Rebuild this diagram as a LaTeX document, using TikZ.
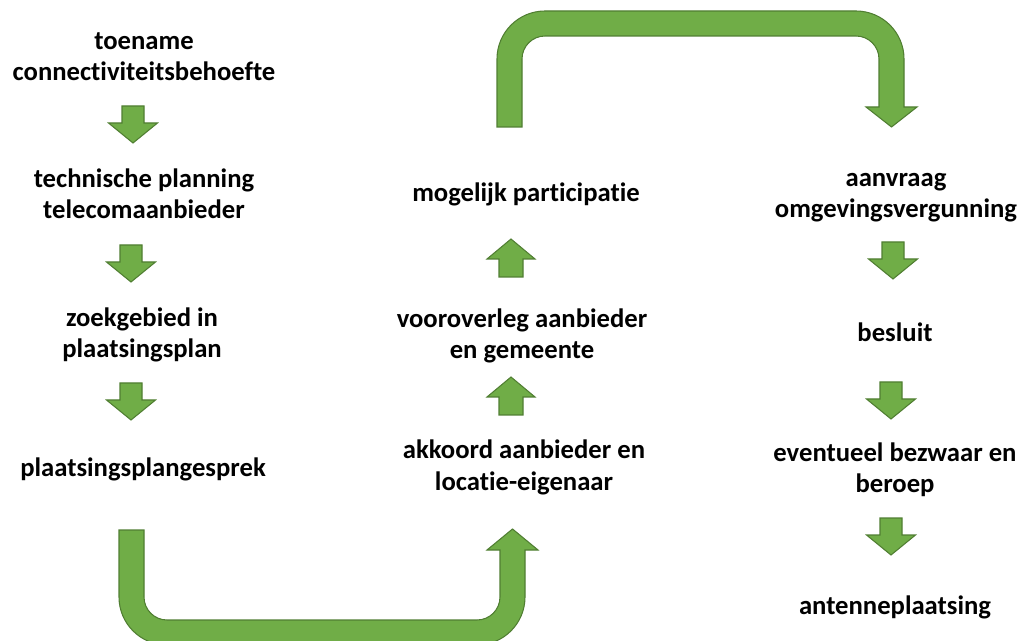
\documentclass[tikz,border=0pt]{standalone}
\usepackage{fontspec}
\setmainfont{Carlito}[Ligatures=NoCommon]
\definecolor{arrowfill}{HTML}{70AD47}
\definecolor{arrowline}{HTML}{507E32}
\tikzset{
  blockarrow/.style={fill=arrowfill, draw=arrowline, line width=0.8pt, line join=miter},
  label/.style={anchor=base, align=center, inner sep=0pt,
    font=\bfseries\fontsize{20}{23.6}\selectfont}
}
\newcommand\downblock[2]{%
  \draw[blockarrow] (#1-11,#2) -- (#1+11,#2) -- (#1+11,#2+17) -- (#1+24.5,#2+17)
    -- (#1,#2+37) -- (#1-24.5,#2+17) -- (#1-11,#2+17) -- cycle;}
\newcommand\upblock[2]{%
  \draw[blockarrow] (#1,#2) -- (#1+24,#2+20) -- (#1+12,#2+20) -- (#1+12,#2+38)
    -- (#1-12,#2+38) -- (#1-12,#2+20) -- (#1-24,#2+20) -- cycle;}
\begin{document}
\begin{tikzpicture}[x=0.75pt,y=-0.75pt]
\useasboundingbox (0,0) rectangle (1021,641);
\clip (0,0) rectangle (1021,641);

% left column (base anchor = baseline of the last line)
\node[label] (l1) at (144,81) {toename\\connectiviteitsbehoefte};
\node[label] (l2) at (144,218.5) {technische planning\\telecomaanbieder};
\node[label] (l3) at (142,357.5) {zoekgebied in\\plaatsingsplan};
\node[label] (l4) at (143,476) {plaatsingsplangesprek};

% middle column
\node[label] (m1) at (526,202) {mogelijk participatie};
\node[label] (m2) at (522,358.5) {vooroverleg aanbieder\\en gemeente};
\node[label] (m3) at (524,490) {akkoord aanbieder en\\locatie-eigenaar};

% right column
\node[label] (r1) at (896,218) {aanvraag\\omgevingsvergunning};
\node[label] (r2) at (895,342) {besluit};
\node[label] (r3) at (895,493) {eventueel bezwaar en\\beroep};
\node[label] (r4) at (895,614) {antenneplaatsing};

% small block arrows
\downblock{133}{106}
\downblock{131}{245}
\downblock{131}{383}
\upblock{511}{239}
\upblock{511}{377}
\downblock{893}{242}
\downblock{891}{382}
\downblock{891}{518}

% top U-turn arrow
\draw[blockarrow] (497,127) -- (497,59)
  .. controls (497,32.5) and (518.5,11) .. (545,11) -- (856,11)
  .. controls (882.5,11) and (904,32.5) .. (904,59) -- (904,107)
  -- (917,107) -- (891.5,127) -- (866,107) -- (879,107) -- (879,59)
  .. controls (879,46.3) and (868.7,36) .. (856,36) -- (545,36)
  .. controls (532.3,36) and (522,46.3) .. (522,59) -- (522,127) -- cycle;

% bottom U-turn arrow
\draw[blockarrow] (119,530) -- (119,597)
  .. controls (119,623.5) and (140.5,645) .. (167,645) -- (477,645)
  .. controls (503.5,645) and (525,623.5) .. (525,597) -- (525,550)
  -- (538,550) -- (512.5,529) -- (487,550) -- (500,550) -- (500,597)
  .. controls (500,609.7) and (489.7,620) .. (477,620) -- (167,620)
  .. controls (154.3,620) and (144,609.7) .. (144,597) -- (144,530) -- cycle;
\end{tikzpicture}
\end{document}
